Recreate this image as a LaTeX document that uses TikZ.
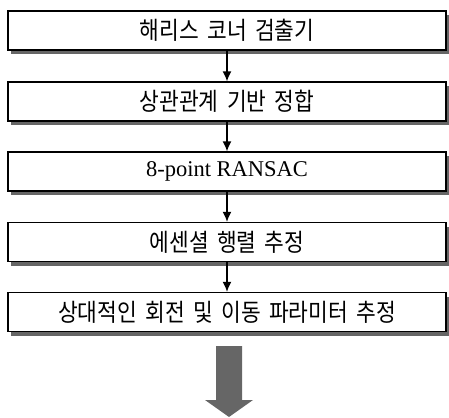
\documentclass[tikz,border=0pt]{standalone}
\usepackage{fontspec}
\setmainfont{Liberation Serif}
\newfontfamily\kr[FakeStretch=0.875, WordSpace=1.75]{Noto Sans CJK KR}
\usetikzlibrary{arrows.meta,shadows,positioning}

\begin{document}
\begin{tikzpicture}[x=1pt, y=-1pt,
    stage/.style={draw, line width=1.3pt, fill=white, minimum width=438pt,
        minimum height=39pt, inner sep=0pt,
        drop shadow={shadow xshift=3pt, shadow yshift=-4pt, fill=black!60, opacity=1}},
    kor/.style={font=\kr\fontsize{24.5}{26}\selectfont},
    flow/.style={-{Latex[length=10pt, width=9pt]}, line width=1.4pt}]
    \useasboundingbox (0, 0) rectangle (449, 417);
    \node[stage, kor] (harris) at (227, 30.5) {해리스 코너 검출기};
    \node[stage, kor] (corr) at (227, 101.5) {상관관계 기반 정합};
    \node[stage, font=\fontsize{22.5}{24}\selectfont] (ransac) at (227, 171.5) {8-point RANSAC};
    \node[stage, kor] (essential) at (227, 242) {에센셜 행렬 추정};
    \node[stage, kor] (motion) at (227, 312) {상대적인 회전 및 이동 파라미터 추정};
    \draw[flow] (harris) -- (corr);
    \draw[flow] (corr) -- (ransac);
    \draw[flow] (ransac) -- (essential);
    \draw[flow] (essential) -- (motion);
    % output arrow
    \fill[black!60] (216, 346) -- (242, 346) -- (242, 400) -- (253, 400)
        -- (229, 417) -- (205, 400) -- (216, 400) -- cycle;
\end{tikzpicture}
\end{document}
